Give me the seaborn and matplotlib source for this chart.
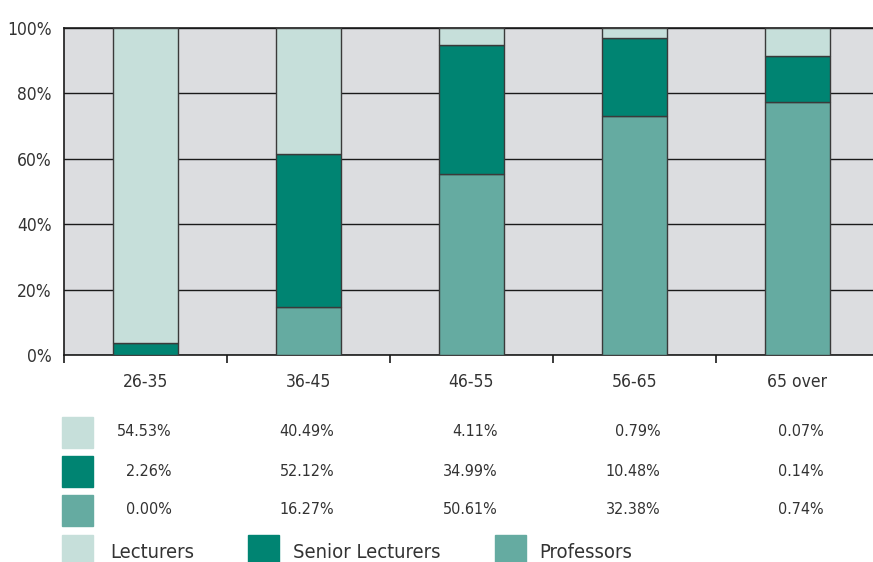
import numpy as np
import pandas as pd
import matplotlib
matplotlib.use("Agg")
import matplotlib.pyplot as plt
from matplotlib.patches import Rectangle
import seaborn as sns

sns.set_style("white")
plt.rcParams['font.family'] = ['Liberation Sans Narrow', 'DejaVu Sans']
plt.rcParams['font.stretch'] = 'condensed'

# Data
age_groups = ['26-35', '36-45', '46-55', '56-65', '65 over']
professors = [0.0, 14.8, 55.4, 73.1, 77.5]
senior_lecturers = [3.6, 46.8, 39.4, 23.7, 14.0]
lecturers = [96.4, 38.4, 5.2, 3.2, 8.5]

# Table values shown under the chart
table_lecturers = ['54.53%', '40.49%', '4.11%', '0.79%', '0.07%']
table_senior = ['2.26%', '52.12%', '34.99%', '10.48%', '0.14%']
table_professors = ['0.00%', '16.27%', '50.61%', '32.38%', '0.74%']

series_names = ['Lecturers', 'Senior Lecturers', 'Professors']
c_light = '#c6dfda'
c_dark = '#008472'
c_mid = '#65aba1'
text_col = '#333333'
edge_col = '#3a3a3a'

df = pd.DataFrame({'age': age_groups, 'prof': professors,
                   'senior': senior_lecturers, 'lect': lecturers})
df['senior_bottom'] = df['prof']
df['lect_bottom'] = df['prof'] + df['senior']

fig = plt.figure(figsize=(8.73, 5.62), dpi=100)
ax = fig.add_axes([64 / 873, 1 - 355 / 562, 1 - 64 / 873, (355 - 28) / 562])
ax.set_facecolor('#dcdde0')

sns.barplot(data=df, x='age', y='prof', color=c_mid, width=0.4,
            edgecolor=edge_col, linewidth=1, saturation=1, ax=ax, zorder=3)
sns.barplot(data=df, x='age', y='senior', bottom=df['senior_bottom'], color=c_dark, width=0.4,
            edgecolor=edge_col, linewidth=1, saturation=1, ax=ax, zorder=3)
sns.barplot(data=df, x='age', y='lect', bottom=df['lect_bottom'], color=c_light, width=0.4,
            edgecolor=edge_col, linewidth=1, saturation=1, ax=ax, zorder=3)

ax.set_ylim(0, 100)
ax.set_xlim(-0.5, 4.465)
ax.set_yticks([0, 20, 40, 60, 80, 100])
ax.set_yticklabels([f'{v}%' for v in [0, 20, 40, 60, 80, 100]], fontsize=12.5, color=text_col)
ax.yaxis.grid(True, color='#1a1a1a', linewidth=1.0)
ax.set_axisbelow(True)
ax.set_xlabel('')
ax.set_ylabel('')
ax.set_xticks(range(5))
ax.set_xticklabels(age_groups, fontsize=12.5, color=text_col)
ax.set_xticks([-0.5, 0.5, 1.5, 2.5, 3.5], minor=True)
ax.tick_params(axis='x', which='major', length=0, pad=13)
ax.tick_params(axis='x', which='minor', length=6, width=1.2, color='#1a1a1a', direction='out')
ax.tick_params(axis='y', length=6, width=1.2, color='#1a1a1a', direction='out', pad=3)
ax.tick_params(axis='both', bottom=True, which='both')
for s in ['left', 'bottom', 'top']:
    ax.spines[s].set_visible(True)
    ax.spines[s].set_color('#1a1a1a')
    ax.spines[s].set_linewidth(1.2)
ax.spines['right'].set_visible(False)

# Table under the chart (figure pixel coordinates)
W, H = 873, 562
def fx(px):
    return px / W
def fy(py):
    return 1 - py / H

rows = [(table_lecturers, c_light, 432), (table_senior, c_dark, 471), (table_professors, c_mid, 510)]
for vals, col, yc in rows:
    fig.add_artist(Rectangle((fx(62), fy(yc + 15.5)), 31 / W, 31 / H, color=col,
                             transform=fig.transFigure))
    for i, v in enumerate(vals):
        xd = i + 0.16
        xpix = ax.transData.transform((xd, 0))[0]
        fig.text(xpix / W, fy(yc), v, ha='right', va='center', fontsize=11.5, color=text_col)

# Legend row
legend_items = [(series_names[0], c_light, 62, 110), (series_names[1], c_dark, 248, 293),
                (series_names[2], c_mid, 495, 539)]
for name, col, sx, tx in legend_items:
    fig.add_artist(Rectangle((fx(sx), fy(575)), 31 / W, 40 / H, color=col,
                             transform=fig.transFigure))
    fig.text(fx(tx), fy(552), name, ha='left', va='center', fontsize=14.5, color=text_col)

fig.savefig('out.png', dpi=100)
